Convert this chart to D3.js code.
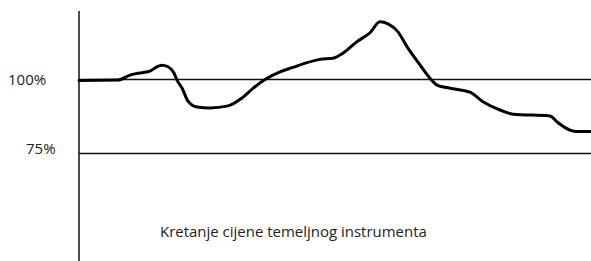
<!DOCTYPE html>
<html>
<head>
<meta charset="utf-8">
<script src="https://cdn.jsdelivr.net/npm/d3@7"></script>
<style>
  html, body { margin: 0; padding: 0; background: #fff; }
  svg { display: block; }
  text { font-family: "Open Sans", "Noto Sans", sans-serif; fill: #222; }
</style>
</head>
<body>
<div id="chart"></div>
<script>
// Price path of the underlying (percent of starting level)
const days = [0, 39, 51, 63, 71, 78, 83, 89, 95, 98, 103, 109, 118, 131, 148, 164, 174,
  188, 201, 214, 228, 241, 254, 264, 278, 291, 301, 309, 319, 328, 341, 351, 358, 369,
  391, 404, 421, 434, 471, 478, 491, 498, 512];
const prices = [99.7, 99.8, 101.5, 102.3, 102.8, 104.3, 104.8, 104.3, 102.2, 99.8, 97.1,
  92.7, 90.7, 90.4, 91.0, 94.0, 97.0, 100.4, 102.6, 104.1, 105.7, 106.8, 107.2, 108.9,
  112.8, 115.8, 119.5, 118.8, 116.1, 111.1, 104.9, 100.4, 98.1, 97.2, 95.7, 92.5, 89.7,
  88.3, 87.7, 85.7, 82.9, 82.4, 82.4];
const levels = [100, 75];
const levelLabels = ['100%', '75%'];
const caption = 'Kretanje cijene temeljnog instrumenta';

const width = 591;
const height = 261;

const svg = d3.select('#chart')
    .append('svg')
    .attr('width', width)
    .attr('height', height);

const x = d3.scaleLinear().domain([0, 512]).range([79, 591]);
const y = d3.scaleLinear().domain([75, 100]).range([153.5, 79.5]);

// vertical axis
svg.append('line')
    .attr('x1', x(0)).attr('x2', x(0))
    .attr('y1', 11).attr('y2', height)
    .style('stroke', '#111')
    .style('stroke-width', 1.5);

// reference levels
svg.append('g')
    .selectAll('line')
    .data(levels)
    .enter().append('line')
    .attr('x1', x(0))
    .attr('x2', x(512))
    .attr('y1', d => y(d))
    .attr('y2', d => y(d))
    .style('stroke', '#111')
    .style('stroke-width', 1.5);

// labels sit a bit off the lines, each at its own spot
const labelX = [8, 26];
const labelDy = [5, 0.5];
svg.append('g')
    .selectAll('text')
    .data(levels)
    .enter().append('text')
    .attr('x', (d, i) => labelX[i])
    .attr('y', (d, i) => y(d) + labelDy[i])
    .style('font-size', '15px')
    .text((d, i) => levelLabels[i]);

// price line
const line = d3.line()
    .x((d, i) => x(days[i]))
    .y(d => y(d))
    .curve(d3.curveMonotoneX);

svg.append('path')
    .datum(prices)
    .attr('d', line)
    .style('fill', 'none')
    .style('stroke', '#000')
    .style('stroke-width', 3)
    .style('stroke-linejoin', 'round')
    .style('stroke-linecap', 'round');

// caption, sized to the width it has in the original
const cap = svg.append('text')
    .attr('x', 160)
    .attr('y', 236.5)
    .style('font-size', '14px')
    .text(caption);
const len = cap.node().getComputedTextLength();
cap.style('font-size', (14 * 267 / len).toFixed(2) + 'px');
</script>
</body>
</html>
